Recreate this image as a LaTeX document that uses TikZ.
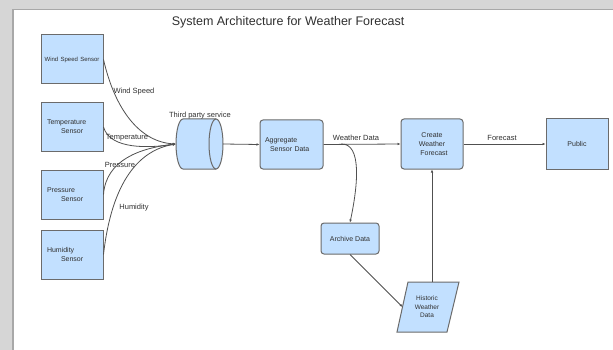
\documentclass[tikz,border=0pt]{standalone}
\usepackage{fontspec}
\setmainfont{Liberation Sans}
\usetikzlibrary{arrows.meta}
\definecolor{boxfill}{HTML}{C2E0FF}
\definecolor{boxline}{HTML}{6B6B6B}
\definecolor{wirecol}{HTML}{505050}
\definecolor{bggray}{HTML}{D6D6D6}
\definecolor{framegray}{HTML}{A8A8A8}
\definecolor{txtcol}{HTML}{303030}
\begin{document}
\begin{tikzpicture}[x=1pt,y=-1pt,
  box/.style={draw=boxline,fill=boxfill,line width=1pt,inner sep=0pt,text=txtcol,font=\fontsize{7}{9}\selectfont},
  sensor/.style={box,minimum width=62pt,minimum height=49pt,text width=50pt,align=left},
  rbox/.style={box,rounded corners=3pt},
  wire/.style={draw=wirecol,line width=0.8pt,-{Latex[length=3pt,width=2.6pt]}},
  lbl/.style={font=\fontsize{7.5}{9}\selectfont,inner sep=0pt,text=txtcol},
]
\useasboundingbox (0,0) rectangle (613,350);
\fill[bggray] (0,0) rectangle (613,350);
\fill[white] (12,9) rectangle (613,350);
\draw[framegray,line width=1.5pt] (12.75,350) -- (12.75,9.75) -- (613,9.75);

\node[font=\fontsize{12.5}{14}\selectfont,text=txtcol] (title) at (288,22) {System Architecture for Weather Forecast};

% sensors
\node[sensor,text width=58pt,align=center] (ws) at (72,59.5) {\fontsize{6}{8}\selectfont Wind Speed Sensor};
\node[sensor] (temp) at (72,127) {Temperature\\\hspace*{14pt}Sensor};
\node[sensor] (pres) at (72,194.5) {Pressure\\\hspace*{14pt}Sensor};
\node[sensor] (hum) at (72,254.5) {Humidity\\\hspace*{14pt}Sensor};

% cylinder
\fill[boxfill] (183,169) arc[start angle=270,end angle=90,x radius=7pt,y radius=25pt]
  -- (216,119) arc[start angle=90,end angle=-90,x radius=7pt,y radius=25pt] -- cycle;
\draw[boxline,line width=1pt] (183,169) arc[start angle=270,end angle=90,x radius=7pt,y radius=25pt]
  -- (216,119) (216,169) -- (183,169);
\draw[boxline,line width=1pt] (216,144) ellipse[x radius=7pt,y radius=25pt];
\node[minimum width=47pt,minimum height=50pt,inner sep=0pt] (cyl) at (199.5,144) {};
\node[lbl] (cyllbl) at (200,116) {Third party service};

% processing boxes
\node[rbox,minimum width=63pt,minimum height=49pt,text width=53pt,align=left] (agg) at (291.5,144.5) {Aggregate\\\hspace*{5pt}Sensor Data};
\node[rbox,minimum width=62pt,minimum height=50pt,align=center] (create) at (432,144) {Create\\Weather\\\hspace*{4pt}Forecast};
\node[box,minimum width=62pt,minimum height=50pt] (pub) at (577,144) {Public};
\node[rbox,minimum width=58pt,minimum height=31pt] (arch) at (350,238.5) {Archive Data};

% historic data parallelogram
\filldraw[fill=boxfill,draw=boxline,line width=1pt] (397,332) -- (408,282) -- (459,282) -- (447,332) -- cycle;
\node[inner sep=0pt,align=center,text=txtcol,font=\fontsize{6.5}{8.5}\selectfont] (hist) at (427,307) {Historic\\Weather\\Data};
\coordinate (histw) at (402.5,307);
\coordinate (histn) at (432,282);

% sensor connectors
\draw[wire] (ws.east) .. controls (115,110) and (140,142) .. (cyl.west);
\draw[wire] (temp.east) .. controls (110,150) and (150,148) .. (cyl.west);
\draw[wire] (pres.east) .. controls (106,160) and (140,148) .. (cyl.west);
\draw[wire] (hum.east) .. controls (112,180) and (140,150) .. (cyl.west);
\node[lbl] (lws) at (134,92) {Wind Speed};
\node[lbl] (ltemp) at (127,138) {Temperature};
\node[lbl] (lpres) at (120,165) {Pressure};
\node[lbl] (lhum) at (134,208) {Humidity};

% main flow
\draw[wire] (cyl.east) -- (agg.west);
\draw[wire] (agg.east) -- (create.west);
\node[lbl] (lwd) at (356,138) {Weather Data};
\coordinate (br) at (341,144);
\draw[wire] (br) .. controls (362,143) and (358,185) .. (arch.north);
\draw[wire] (arch.south) -- (histw);
\draw[wire] (histn) -- (create.south);
\draw[wire] (create.east) -- (pub.west);
\node[lbl] (lfc) at (502,138) {Forecast};
\end{tikzpicture}
\end{document}
